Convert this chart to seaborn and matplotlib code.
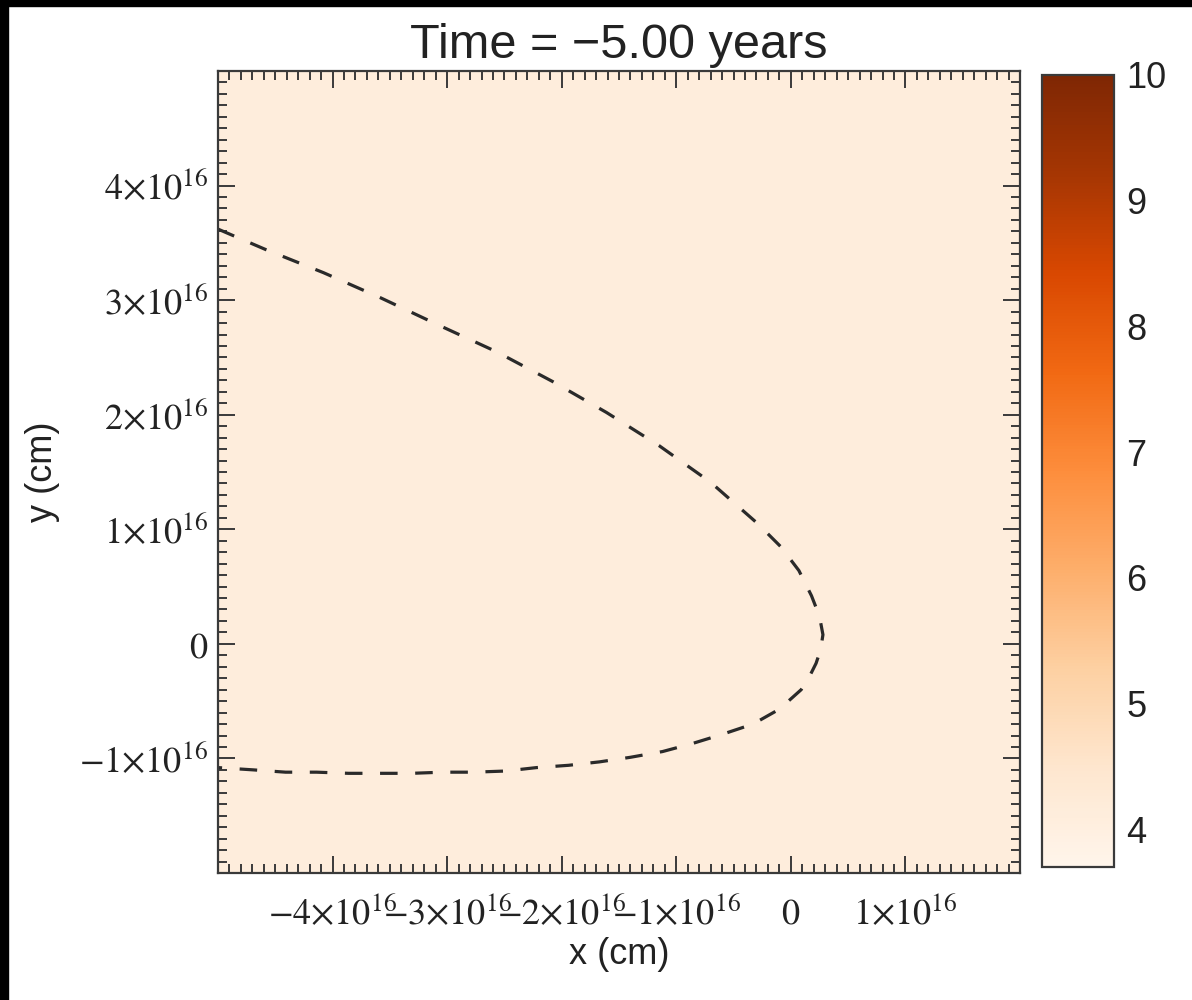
import numpy as np
import pandas as pd
import seaborn as sns
import matplotlib.pyplot as plt
from matplotlib.patches import Rectangle
from matplotlib.ticker import FixedLocator, MultipleLocator, FuncFormatter

# orbit trace, in units of 1e16 cm
orbit_x = [-5.00, -4.58, -4.08, -3.58, -3.07, -2.57, -2.08, -1.61, -1.15, -0.70,
           -0.29, -0.09, 0.07, 0.18, 0.25, 0.28, 0.26, 0.22, 0.16, 0.09,
           -0.10, -0.33, -0.60, -0.86, -1.12, -1.40, -1.67, -1.94, -2.22, -2.49,
           -2.77, -3.04, -3.31, -3.57, -3.86, -4.14, -4.41, -4.69, -5.00]
orbit_y = [3.62, 3.44, 3.24, 3.02, 2.78, 2.55, 2.29, 2.02, 1.73, 1.41,
           1.05, 0.85, 0.64, 0.42, 0.24, 0.08, -0.05, -0.17, -0.29, -0.40,
           -0.57, -0.70, -0.79, -0.87, -0.94, -0.99, -1.03, -1.06, -1.08, -1.11,
           -1.12, -1.12, -1.13, -1.13, -1.13, -1.12, -1.12, -1.10, -1.08]

# background field (log density), uniform at this time
field = np.full((10, 10), 4.1)
field_min, field_max = 3.7, 10.0
cbar_ticks = [4, 5, 6, 7, 8, 9, 10]

x_ticks = [-4, -3, -2, -1, 0, 1]
y_ticks = [-1, 0, 1, 2, 3, 4]
x_range = (-5, 2)
y_range = (-2, 5)
scale = 1e16

sns.set_theme(style='ticks')
plt.rcParams['font.family'] = ['Liberation Sans', 'DejaVu Sans']
plt.rcParams['mathtext.fontset'] = 'stix'

fig = plt.figure(figsize=(11.92, 10), dpi=100)
fig.patch.set_facecolor('white')

pos = [218 / 1192, 1 - 873 / 1000, 802 / 1192, 802 / 1000]
cax = fig.add_axes([1042 / 1192, 1 - 867 / 1000, 72 / 1192, 792 / 1000])

# field as a seaborn heatmap on a background axes
ax_bg = fig.add_axes(pos)
sns.heatmap(pd.DataFrame(field), ax=ax_bg, cmap='Oranges', vmin=field_min, vmax=field_max,
            cbar_ax=cax, xticklabels=False, yticklabels=False)
ax_bg.axis('off')

cb = ax_bg.collections[0].colorbar
cb.set_ticks(cbar_ticks)
cb.ax.tick_params(length=0, labelsize=26, pad=9, colors='#222')
cb.outline.set_visible(True)
cb.outline.set_linewidth(1.6)
cb.outline.set_edgecolor('#3a3a3a')

# main axes on top
ax = fig.add_axes(pos)
ax.patch.set_alpha(0)
sns.lineplot(x=np.array(orbit_x) * scale, y=np.array(orbit_y) * scale, ax=ax,
             sort=False, estimator=None, color='#2a2a2a', lw=2.3,
             linestyle=(0, (5.5, 5.5)))

ax.set_xlim(x_range[0] * scale, x_range[1] * scale)
ax.set_ylim(y_range[0] * scale, y_range[1] * scale)


def sci_label(v, _pos=None):
    m = int(round(v / scale))
    if m == 0:
        return r'$0$'
    return r'$%d{\times}10^{16}$' % m


ax.xaxis.set_major_locator(FixedLocator([t * scale for t in x_ticks]))
ax.yaxis.set_major_locator(FixedLocator([t * scale for t in y_ticks]))
ax.xaxis.set_minor_locator(MultipleLocator(0.1 * scale))
ax.yaxis.set_minor_locator(MultipleLocator(0.1 * scale))
ax.xaxis.set_major_formatter(FuncFormatter(sci_label))
ax.yaxis.set_major_formatter(FuncFormatter(sci_label))

ax.tick_params(which='both', direction='in', top=True, right=True,
               color='#3a3a3a', width=1.4, labelsize=26, labelcolor='#222')
ax.tick_params(which='major', length=12)
ax.tick_params(which='minor', length=6.5)
ax.tick_params(axis='x', which='major', pad=17)
ax.tick_params(axis='y', which='major', pad=7)
for s in ax.spines.values():
    s.set_linewidth(1.6)
    s.set_edgecolor('#3a3a3a')

ax.set_xlabel('x (cm)', fontsize=26, color='#222', labelpad=3)
ax.set_ylabel('y (cm)', fontsize=26, color='#222', labelpad=14)
ax.set_title('Time = \u22125.00 years', fontsize=35, color='#222', pad=9)

# black strips at the top and left edges of the original frame
fig.patches.append(Rectangle((0, 1 - 6 / 1000), 1, 6 / 1000, transform=fig.transFigure,
                             color='black', zorder=10))
fig.patches.append(Rectangle((0, 0), 8 / 1192, 1, transform=fig.transFigure,
                             color='black', zorder=10))

fig.savefig('out.png', dpi=100)
